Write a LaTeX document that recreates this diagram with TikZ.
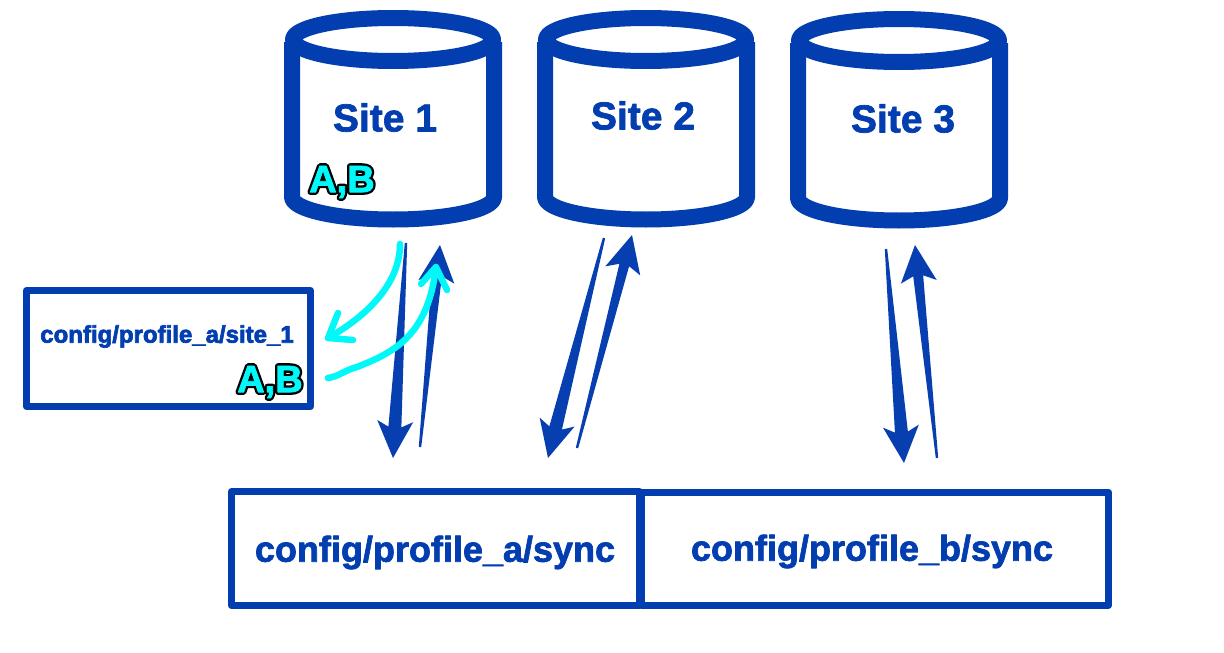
\documentclass[tikz,border=0pt]{standalone}
\usepackage{fontspec}
\setmainfont{Liberation Sans}
\usetikzlibrary{calc}
\definecolor{siteblue}{HTML}{023EB0}
\definecolor{arrowblue}{HTML}{083FB0}
\definecolor{marker}{HTML}{00F8F8}
\newcommand\fsz[1]{\fontsize{#1}{#1}\selectfont\bfseries}
\newcommand\stroked[3]{\special{pdf:code q 1 j 2 Tr #1 w #2 RG}#3\special{pdf:code Q}}
\newcommand\bluetext[1]{\stroked{0.7}{0.008 0.243 0.69}{#1}}
\tikzset{
  cyl/.style={draw=siteblue,line width=16pt,line join=round,fill=white},
  boxy/.style={draw=siteblue,line width=7pt,line join=round,fill=white,minimum height=116pt,inner sep=0pt},
  sitelabel/.style={text=siteblue,font=\fsz{39},inner sep=0pt},
  pathlabel/.style={text=siteblue,font=\fsz{36},inner sep=0pt},
  smallpath/.style={text=siteblue,font=\fsz{24},inner sep=0pt},
  tag/.style={text=marker,font=\fsz{38},inner sep=0pt},
  tagedge/.style={text=black,font=\fsz{38},inner sep=0pt},
  tapered/.style={fill=arrowblue,draw=none},
  scribble/.style={draw=marker,line width=6.5pt,line cap=round,line join=round},
}
\newcommand\cylinder[2]{%
  \draw[cyl] (#1-101,42+#2) -- (#1-101,197+#2) arc[start angle=180,end angle=0,x radius=101,y radius=22.5] -- (#1+101,42+#2);
  \draw[cyl] (#1,39.5+#2) ellipse[x radius=100,y radius=21.5];
}
\newcommand\taper[5]{%
  \coordinate (wingbase) at ($(#2)!37pt!(#1)$);
  \coordinate (neck) at ($(#2)!31pt!(#1)$);
  \fill[tapered] ($(#1)!#3!90:(#2)$) -- ($(neck)!#4!90:(#2)$) -- ($(wingbase)!#5!90:(#2)$) -- (#2)
    -- ($(wingbase)!#5!-90:(#2)$) -- ($(neck)!#4!-90:(#2)$) -- ($(#1)!#3!-90:(#2)$) -- cycle;
}
\begin{document}
\begin{tikzpicture}[x=1pt,y=-1pt]
\useasboundingbox[fill=white] (0,0) rectangle (1224,653);
% cylinders
\cylinder{393}{0}
\cylinder{646}{0}
\cylinder{899}{1}
\node[sitelabel] (site1) at (385,117.5) {\bluetext{Site 1}};
\node[sitelabel] (site2) at (643,115.5) {\bluetext{Site 2}};
\node[sitelabel] (site3) at (903,118.5) {\bluetext{Site 3}};
\node[tagedge] (tag1edge) at (342,182) {\stroked{5.5}{0 0 0}{A,B}};
\node[tag] (tag1) at (342,182) {\stroked{0.8}{0 0.973 0.973}{A,B}};
% boxes
\node[boxy,minimum width=284pt] (cfgsite) at (168.5,348.5) {};
\node[smallpath] (cfgsitetext) at (167,336.5) {\bluetext{config/profile\_a/site\_1}};
\node[tagedge] (tag2edge) at (270,382) {\stroked{5.5}{0 0 0}{A,B}};
\node[tag] (tag2) at (270,382) {\stroked{0.8}{0 0.973 0.973}{A,B}};
\node[boxy,minimum width=408pt,minimum height=114pt] (synca) at (435.5,548.5) {};
\node[boxy,minimum width=467pt,minimum height=113pt] (syncb) at (875,548.5) {};
\node[pathlabel] (syncatext) at (435,552.5) {\bluetext{config/profile\_a/sync}};
\node[pathlabel] (syncbtext) at (872,551.5) {\bluetext{config/profile\_b/sync}};
% arrow ends
\coordinate (a1) at (406,243); \coordinate (a1t) at (393,458);
\coordinate (a2) at (420,447); \coordinate (a2t) at (440,245);
\coordinate (a3) at (604,238); \coordinate (a3t) at (548,458);
\coordinate (a4) at (577,448); \coordinate (a4t) at (632,235);
\coordinate (a5) at (886,249); \coordinate (a5t) at (904,463);
\coordinate (a6) at (937,458); \coordinate (a6t) at (915,245);
\taper{a1}{a1t}{1.2pt}{6.5pt}{18pt}
\taper{a2}{a2t}{1.2pt}{5pt}{18pt}
\taper{a3}{a3t}{1.2pt}{6.5pt}{18pt}
\taper{a4}{a4t}{1.2pt}{5pt}{18pt}
\taper{a5}{a5t}{1.2pt}{6.5pt}{18pt}
\taper{a6}{a6t}{1.2pt}{5pt}{18pt}
% cyan strokes
\coordinate (c1s) at (400,244); \coordinate (c1e) at (328,338);
\coordinate (c2s) at (328,378); \coordinate (c2e) at (436,267);
\draw[scribble] (c1s) .. controls (400,285) and (365,317) .. (c1e);
\draw[scribble] (338,313) -- (c1e) -- (353,340);
\draw[scribble] (c2s) .. controls (340,376) and (345,370) .. (357,367)
  .. controls (395,352) and (428,335) .. (c2e);
\draw[scribble] (421,284) -- (c2e) -- (447,290);
\end{tikzpicture}
\end{document}
